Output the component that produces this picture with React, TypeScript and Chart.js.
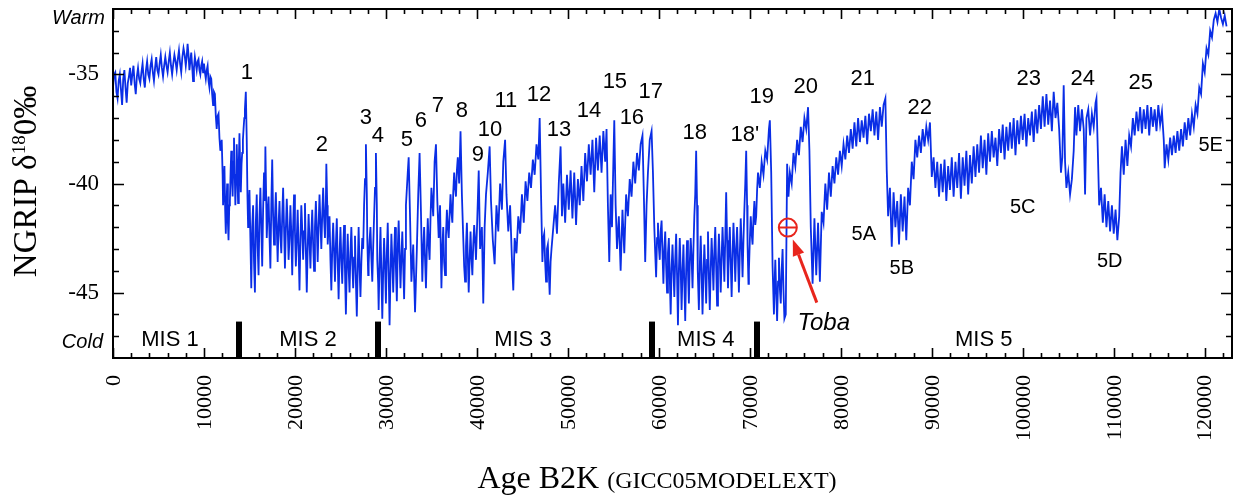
import React, { useEffect, useRef } from 'react';
import { Chart, registerables } from 'chart.js';

Chart.register(...registerables);

const SERIF = '"Liberation Serif", "Times New Roman", serif';
const SANS = '"Liberation Sans", Arial, sans-serif';
const LINE_BLUE = '#0a2ee6';
const RED = '#e8251c';

// ---- NGRIP δ18O record, [age B2K (years), δ18O ‰] ----
const mis1Series: [number, number][] = [
  [0, -35.6], [125, -35.0], [250, -34.9], [375, -35.8], [500, -36.1], [625, -35.3], [750, -35.0], [875, -35.7],
  [1000, -36.4], [1125, -35.2], [1250, -34.8], [1375, -35.6], [1500, -36.3], [1625, -35.4], [1750, -35.1], [1875, -34.7],
  [2000, -35.5], [2125, -35.0], [2250, -34.6], [2375, -35.4], [2500, -35.9], [2625, -35.1], [2750, -34.7], [2875, -35.2],
  [3000, -35.4], [3125, -34.9], [3250, -34.5], [3375, -35.2], [3500, -35.6], [3625, -34.8], [3750, -34.4], [3875, -35.0],
  [4000, -35.2], [4125, -34.6], [4250, -34.3], [4375, -34.9], [4500, -35.3], [4625, -34.7], [4750, -34.2], [4875, -34.8],
  [5000, -35.0], [5125, -34.5], [5250, -34.1], [5375, -34.7], [5500, -35.1], [5625, -34.6], [5750, -34.2], [5875, -34.6],
  [6000, -34.9], [6125, -34.4], [6250, -34.0], [6375, -34.6], [6500, -35.0], [6625, -34.5], [6750, -34.1], [6875, -34.4],
  [7000, -34.8], [7125, -34.3], [7250, -33.9], [7375, -34.5], [7500, -34.9], [7625, -34.2], [7750, -33.8], [7875, -34.1],
  [8000, -34.6], [8100, -34.2], [8200, -33.6], [8300, -34.1], [8400, -34.8], [8500, -34.4], [8600, -34.0], [8700, -34.6],
  [8800, -35.3], [8900, -34.7], [9000, -34.2], [9100, -34.5], [9200, -34.8], [9300, -34.4], [9400, -34.3], [9500, -34.8],
  [9600, -35.0], [9700, -34.6], [9800, -34.4], [9900, -34.9], [10000, -34.5], [10100, -34.9], [10200, -35.2], [10300, -34.8],
  [10400, -34.6], [10500, -35.3], [10600, -35.6], [10700, -35.1], [10800, -35.2], [10900, -35.9], [11000, -36.4], [11100, -35.8],
  [11200, -35.9], [11300, -36.9], [11400, -37.5], [11500, -36.9], [11600, -36.8], [11700, -37.9], [11800, -38.5], [11950, -38.0],
  [12050, -39.6], [12100, -41.0], [12250, -39.2], [12330, -41.2], [12400, -42.3], [12480, -40.9], [12550, -40.0], [12630, -41.8],
  [12700, -42.6], [12780, -41.0], [12850, -40.8], [12930, -39.4], [13000, -38.5], [13080, -39.8], [13150, -40.6], [13230, -39.0],
  [13300, -37.9], [13380, -39.5], [13450, -41.0], [13530, -39.6], [13600, -38.2], [13680, -39.7], [13750, -40.9], [13830, -39.0],
  [13900, -37.7], [13980, -39.2], [14050, -40.4], [14130, -39.1], [14200, -38.6], [14280, -38.0], [14350, -37.5], [14430, -37.0],
  [14500, -36.6], [14600, -35.8], [14700, -38.0], [14780, -40.6], [14850, -42.0], [14930, -41.0],
];

const mis2Series: [number, number][] = [
  [15000, -40.3], [15100, -42.5], [15200, -44.8], [15300, -42.0], [15400, -41.0], [15500, -43.6], [15600, -45.0], [15700, -41.8],
  [15800, -40.5], [15900, -42.9], [16000, -44.2], [16100, -41.5], [16200, -40.2], [16300, -42.0], [16400, -43.8], [16500, -41.2],
  [16600, -39.5], [16700, -40.8], [16750, -38.3], [16850, -41.0], [16900, -42.5], [17000, -41.3], [17100, -40.6], [17200, -42.4],
  [17300, -43.9], [17400, -41.0], [17500, -38.9], [17600, -41.5], [17700, -42.8], [17800, -41.6], [17900, -40.4], [18000, -42.0],
  [18100, -43.6], [18200, -41.9], [18300, -40.8], [18400, -42.4], [18500, -43.2], [18600, -41.5], [18700, -40.2], [18800, -42.0],
  [18900, -43.9], [19000, -42.1], [19100, -40.7], [19200, -41.9], [19300, -43.5], [19400, -42.5], [19500, -41.0], [19600, -42.3],
  [19700, -44.2], [19800, -42.0], [19900, -40.5], [20000, -42.2], [20100, -43.8], [20200, -42.5], [20300, -41.2], [20400, -43.0],
  [20500, -44.9], [20600, -42.6], [20700, -41.0], [20800, -42.1], [20900, -43.5], [21000, -42.2], [21100, -40.9], [21200, -43.1],
  [21300, -45.0], [21400, -43.0], [21500, -41.4], [21600, -42.6], [21700, -43.9], [21800, -42.3], [21900, -41.2], [22000, -42.8],
  [22100, -44.0], [22200, -42.0], [22300, -40.8], [22400, -42.1], [22500, -43.6], [22600, -41.9], [22700, -40.5], [22800, -41.8],
  [22900, -43.0], [23000, -41.4], [23100, -40.2], [23200, -41.6], [23300, -42.5], [23400, -40.8], [23450, -39.1], [23550, -41.0],
  [23600, -42.8], [23700, -42.0], [23800, -41.5], [23900, -43.5], [24000, -44.9], [24100, -43.0], [24200, -41.8], [24300, -43.1],
  [24400, -44.5], [24500, -42.8], [24600, -41.6], [24700, -43.6], [24800, -45.3], [24900, -43.3], [25000, -42.0], [25100, -43.5],
  [25200, -44.6], [25300, -43.0], [25400, -41.9], [25500, -44.0], [25600, -46.0], [25700, -43.8], [25800, -42.3], [25900, -43.9],
  [26000, -45.0], [26100, -43.2], [26200, -42.0], [26300, -43.6], [26400, -44.8], [26500, -43.4], [26600, -42.4], [26700, -44.5],
  [26800, -46.1], [26900, -43.9], [27000, -42.0], [27100, -43.8], [27200, -45.2], [27300, -43.6], [27400, -42.5], [27500, -43.0],
  [27600, -41.0], [27700, -39.8], [27800, -38.2], [27900, -40.5], [27950, -42.5], [28050, -44.2], [28100, -43.7], [28200, -42.6],
  [28300, -42.0], [28400, -43.4], [28500, -44.5], [28600, -42.9], [28700, -41.5], [28800, -40.2], [28900, -38.6], [29000, -41.0],
  [29050, -43.5], [29150, -44.6], [29200, -45.8],
];

const mis3Series: [number, number][] = [
  [29300, -43.6], [29400, -42.0], [29500, -44.1], [29600, -46.2], [29700, -44.0], [29800, -42.5], [29900, -43.8], [30000, -45.5],
  [30100, -43.2], [30200, -41.8], [30300, -44.0], [30400, -46.5], [30500, -44.2], [30600, -42.3], [30700, -43.5], [30800, -45.0],
  [30900, -43.3], [31000, -42.0], [31100, -43.9], [31200, -45.4], [31300, -43.0], [31400, -41.7], [31500, -43.2], [31600, -44.8],
  [31700, -43.4], [31800, -42.2], [31900, -43.8], [32000, -45.3], [32100, -43.0], [32200, -41.0], [32400, -39.5], [32500, -38.8],
  [32650, -41.5], [32800, -44.5], [33000, -42.8], [33200, -45.9], [33400, -43.0], [33550, -40.5], [33700, -38.6], [33850, -41.3],
  [34000, -44.5], [34100, -43.0], [34200, -42.0], [34300, -43.5], [34400, -44.8], [34500, -43.0], [34600, -41.6], [34700, -42.8],
  [34800, -43.5], [34900, -41.6], [35000, -40.2], [35200, -41.5], [35350, -39.0], [35500, -38.2], [35650, -40.8], [35800, -42.5],
  [35950, -41.0], [36100, -44.8], [36200, -43.0], [36300, -42.0], [36400, -43.6], [36500, -44.2], [36600, -42.4], [36700, -41.2],
  [36800, -42.0], [36900, -42.5], [37000, -41.4], [37100, -40.5], [37200, -41.3], [37300, -41.8], [37400, -40.4], [37500, -39.5],
  [37600, -40.2], [37700, -40.6], [37800, -39.4], [37900, -38.8], [38050, -40.0], [38200, -37.6], [38350, -40.5], [38500, -42.5],
  [38600, -43.8], [38700, -44.5], [38800, -42.9], [38900, -41.8], [39000, -43.4], [39100, -45.0], [39200, -43.5], [39300, -42.2],
  [39400, -43.4], [39500, -44.2], [39600, -42.8], [39700, -41.9], [39800, -42.6], [39900, -43.5], [40050, -41.5], [40200, -39.4],
  [40350, -43.0], [40550, -42.0], [40700, -45.5], [40850, -42.0], [41000, -40.5], [41200, -39.5], [41400, -38.3], [41550, -40.8],
  [41750, -42.6], [41950, -43.7], [42150, -41.0], [42350, -42.2], [42550, -40.0], [42750, -41.2], [42900, -39.0], [43100, -38.0],
  [43250, -40.5], [43450, -42.2], [43650, -41.0], [43850, -43.5], [44000, -44.9], [44150, -42.5], [44350, -43.2], [44550, -41.5],
  [44750, -42.3], [44950, -40.5], [45150, -41.8], [45350, -39.9], [45550, -40.8], [45750, -39.5], [45950, -40.2], [46150, -38.9],
  [46350, -39.6], [46550, -38.2], [46750, -38.9], [46900, -37.0], [47050, -40.5], [47200, -43.6], [47300, -42.5], [47400, -42.3],
  [47500, -43.6], [47600, -44.5], [47700, -43.0], [47800, -42.8], [47900, -44.0], [48000, -45.1], [48100, -43.6], [48200, -43.0],
  [48400, -42.0], [48600, -41.0], [48800, -42.3], [49000, -40.0], [49200, -38.3], [49350, -41.5], [49500, -40.0], [49700, -41.8],
  [49900, -39.6], [50100, -41.2], [50300, -39.4], [50500, -41.6], [50700, -39.5], [50900, -41.9], [51100, -39.8], [51300, -41.0],
  [51500, -39.2], [51700, -40.8], [51900, -38.6], [52100, -39.9], [52300, -38.2], [52500, -39.6], [52700, -38.0], [52900, -40.4],
  [53100, -37.9], [53300, -39.4], [53500, -37.8], [53700, -39.5], [53900, -37.6], [54100, -39.0], [54250, -37.5], [54400, -41.0],
  [54550, -43.6], [54700, -40.5], [54850, -42.0], [55000, -39.0], [55100, -37.1], [55250, -41.0], [55400, -43.0], [55600, -41.5],
  [55800, -44.0], [56000, -41.2], [56200, -43.2], [56400, -40.5], [56600, -41.5], [56800, -39.8], [57000, -40.6], [57200, -39.0],
  [57400, -40.0], [57600, -38.6], [57800, -39.4], [58000, -38.2], [58200, -37.8], [58350, -40.5], [58500, -43.6], [58650, -41.0],
  [58800, -39.5], [59000, -38.0], [59200, -37.6], [59350, -39.5], [59500, -42.0],
];

const mis4Series: [number, number][] = [
  [59600, -43.2], [59700, -44.3], [59800, -42.5], [59900, -41.8], [60000, -42.9], [60100, -43.5], [60200, -42.2], [60300, -41.7],
  [60400, -43.2], [60500, -44.6], [60600, -43.0], [60700, -42.2], [60800, -43.8], [60900, -45.0], [61000, -43.2], [61100, -42.5],
  [61200, -44.3], [61300, -46.0], [61400, -43.9], [61500, -42.8], [61600, -44.0], [61700, -45.2], [61800, -43.5], [61900, -42.3],
  [62000, -44.2], [62100, -46.5], [62200, -44.0], [62300, -42.5], [62400, -43.9], [62500, -45.8], [62600, -44.1], [62700, -42.8],
  [62800, -44.6], [62900, -46.3], [63000, -44.0], [63100, -42.6], [63200, -44.0], [63300, -45.5], [63400, -43.6], [63500, -42.5],
  [63600, -43.4], [63700, -44.8], [63800, -43.0], [63900, -41.5], [64000, -40.5], [64100, -38.5], [64200, -41.0], [64250, -42.5],
  [64300, -44.0], [64400, -45.8], [64500, -43.8], [64600, -42.4], [64700, -44.1], [64800, -46.0], [64900, -44.2], [65000, -42.8],
  [65100, -44.0], [65200, -45.5], [65300, -43.5], [65400, -42.2], [65500, -44.3], [65600, -45.8], [65700, -43.9], [65800, -42.5],
  [65900, -43.6], [66000, -44.9], [66100, -43.1], [66200, -42.0], [66300, -43.8], [66400, -45.6], [66500, -43.7], [66600, -42.3],
  [66700, -43.5], [66800, -45.0], [66900, -43.4], [67000, -42.0], [67100, -43.2], [67200, -44.5], [67300, -42.5], [67400, -40.4],
  [67500, -42.6], [67600, -44.8], [67700, -43.1], [67800, -42.0], [67900, -43.6], [68000, -45.2], [68100, -43.3], [68200, -41.8],
  [68300, -43.0], [68400, -44.5], [68500, -43.0], [68600, -42.0], [68700, -43.4], [68800, -45.0], [68900, -43.2], [69000, -41.6],
  [69100, -42.8], [69200, -44.3], [69300, -42.6], [69400, -41.2], [69500, -40.0], [69600, -38.5], [69700, -41.0], [69750, -42.8],
  [69850, -44.6], [69900, -44.0], [70000, -42.6], [70100, -41.5], [70200, -42.3], [70300, -42.8], [70400, -41.6], [70500, -40.8],
  [70600, -41.9], [70700, -41.5], [70800, -40.3], [70900, -39.5],
];

const mis5Series: [number, number][] = [
  [71100, -40.2], [71300, -39.0], [71500, -39.6], [71700, -38.5], [71900, -38.9], [72100, -37.5], [72200, -37.1], [72350, -39.5],
  [72500, -43.8], [72650, -46.0], [72750, -44.2], [72800, -43.5], [72900, -45.0], [73000, -46.3], [73100, -44.5], [73200, -43.4],
  [73300, -44.8], [73400, -45.5], [73500, -44.0], [73600, -43.0], [73700, -44.9], [73800, -46.2], [73950, -46.0], [74100, -39.1],
  [74250, -40.6], [74400, -39.5], [74600, -40.0], [74800, -38.6], [75000, -39.2], [75200, -38.0], [75400, -38.7], [75600, -37.4],
  [75800, -38.1], [76000, -37.0], [76200, -37.5], [76400, -36.5], [76550, -38.5], [76700, -42.0], [76900, -44.6], [77100, -41.6],
  [77300, -44.2], [77500, -41.8], [77700, -44.5], [77900, -41.3], [78100, -41.8], [78300, -40.0], [78500, -41.2], [78700, -39.5],
  [78900, -40.6], [79100, -39.2], [79300, -40.0], [79500, -38.8], [79700, -39.6], [79900, -38.5], [80100, -39.2], [80300, -38.2],
  [80500, -38.9], [80700, -37.8], [80900, -38.6], [81100, -37.5], [81300, -38.4], [81500, -37.2], [81700, -38.3], [81900, -37.0],
  [82100, -38.1], [82300, -37.1], [82500, -37.9], [82700, -36.9], [82900, -38.2], [83100, -36.8], [83300, -37.6], [83500, -36.6],
  [83700, -37.8], [83900, -36.7], [84100, -38.0], [84300, -36.5], [84500, -37.4], [84700, -36.4], [84900, -36.1], [85050, -39.4],
  [85200, -41.5], [85400, -40.2], [85600, -42.9], [85800, -40.4], [86000, -42.0], [86200, -40.8], [86400, -42.8], [86600, -40.5],
  [86800, -42.2], [87000, -40.6], [87200, -42.6], [87400, -40.2], [87600, -41.0], [87800, -39.0], [88000, -39.8], [88200, -38.0],
  [88400, -38.8], [88600, -37.8], [88800, -38.6], [89000, -37.5], [89200, -38.3], [89400, -37.4], [89600, -38.0], [89800, -37.2],
  [90000, -39.7], [90200, -38.8], [90400, -40.2], [90600, -39.0], [90800, -40.6], [91000, -39.1], [91200, -40.4], [91400, -38.9],
  [91600, -40.8], [91800, -39.2], [92000, -40.3], [92200, -38.8], [92400, -40.6], [92600, -39.0], [92800, -40.2], [93000, -38.6],
  [93200, -40.7], [93400, -38.8], [93600, -40.1], [93800, -38.5], [94000, -40.5], [94200, -38.7], [94400, -40.0], [94600, -38.3],
  [94800, -39.7], [95000, -38.2], [95200, -39.5], [95400, -37.8], [95600, -39.3], [95800, -38.0], [96000, -39.6], [96200, -37.7],
  [96400, -39.0], [96600, -37.6], [96800, -38.8], [97000, -37.9], [97200, -39.2], [97400, -37.5], [97600, -38.6], [97800, -37.3],
  [98000, -38.9], [98200, -37.4], [98400, -38.5], [98600, -37.2], [98800, -38.4], [99000, -37.0], [99200, -38.7], [99400, -37.1],
  [99600, -38.2], [99800, -36.9], [100000, -38.0], [100200, -36.8], [100400, -38.3], [100600, -37.0], [100800, -37.8], [101000, -36.7],
  [101200, -38.1], [101400, -36.6], [101600, -37.7], [101800, -36.4], [102000, -37.5], [102200, -36.0], [102400, -37.4], [102600, -35.9],
  [102800, -37.3], [103000, -36.2], [103200, -37.6], [103400, -35.8], [103600, -37.0], [103800, -36.3], [104000, -37.5], [104200, -39.5],
  [104350, -38.8], [104500, -35.5], [104650, -39.0], [104800, -40.2], [105000, -39.5], [105200, -40.5], [105400, -39.8], [105600, -38.5],
  [105750, -36.5], [105900, -37.8], [106100, -36.4], [106300, -37.6], [106500, -36.6], [106700, -37.5], [106850, -40.5], [107000, -37.0],
  [107200, -36.6], [107400, -37.8], [107600, -36.8], [107800, -37.4], [108000, -36.3], [108100, -36.1], [108250, -38.5], [108400, -41.0],
  [108600, -40.2], [108800, -41.8], [109000, -40.5], [109200, -42.0], [109400, -40.8], [109600, -42.2], [109800, -41.0], [110000, -42.3],
  [110200, -41.2], [110400, -42.6], [110600, -41.5], [110750, -39.5], [110900, -38.3], [111100, -39.6], [111300, -38.0], [111500, -39.2],
  [111700, -37.8], [111900, -38.3], [112100, -37.0], [112300, -37.8], [112500, -36.7], [112700, -37.6], [112900, -36.5], [113100, -37.7],
  [113300, -36.6], [113500, -37.5], [113700, -36.4], [113900, -37.8], [114100, -36.5], [114300, -37.4], [114500, -36.6], [114700, -37.6],
  [114900, -36.4], [115100, -37.3], [115300, -36.7], [115500, -38.0], [115600, -39.3], [115800, -38.2], [116000, -38.9], [116200, -37.9],
  [116400, -38.7], [116600, -37.8], [116800, -38.6], [117000, -37.6], [117200, -38.5], [117400, -37.5], [117600, -38.3], [117800, -37.2],
  [118000, -38.0], [118200, -37.0], [118400, -37.8], [118600, -36.8], [118800, -37.4], [119000, -36.4], [119200, -36.8], [119400, -35.6],
  [119600, -35.9], [119800, -34.5], [120000, -34.9], [120200, -33.8], [120400, -34.1], [120600, -33.0], [120800, -33.3], [121000, -32.5],
  [121200, -32.2], [121400, -32.6], [121600, -32.0], [121800, -32.4], [122000, -32.7], [122200, -32.3], [122400, -32.8],
];

// ---- Axes ----
const X_MIN = 0;
const X_MAX = 123000;
const Y_MIN = -48;
const Y_MAX = -32;
const xTickValues = [0, 10000, 20000, 30000, 40000, 50000, 60000, 70000, 80000, 90000, 100000, 110000, 120000];
const xTickLabels = ['0', '10000', '20000', '30000', '40000', '50000', '60000', '70000', '80000', '90000', '100000', '110000', '120000'];
const yTickValues = [-45, -40, -35];
const yTickLabels = ['-45', '-40', '-35'];
const X_MINOR_STEP = 2000;
const Y_MINOR_STEP = 1;

// ---- Annotations (anchored in data coordinates: age, δ18O) ----
const eventNames = ['1', '2', '3', '4', '5', '6', '7', '8', '9', '10', '11', '12', '13', '14', '15', '16', '17', '18', "18'", '19', '20', '21', '22', '23', '24', '25'];
const eventAges = [14725, 22967, 27802, 29121, 32308, 33846, 35714, 38352, 40110, 41429, 43187, 46813, 49011, 52308, 55165, 57033, 59121, 63956, 69451, 71319, 76154, 82418, 88681, 100659, 106593, 112967];
const eventValues = [-35.23, -38.53, -37.25, -38.12, -38.3, -37.39, -36.74, -36.97, -38.99, -37.8, -36.51, -36.24, -37.8, -36.97, -35.6, -37.25, -36.1, -37.94, -38.07, -36.33, -35.87, -35.5, -36.83, -35.5, -35.5, -35.69];

const substageNames = ['5A', '5B', '5C', '5D', '5E'];
const substageAges = [82527, 86703, 100000, 109560, 120659];
const substageValues = [-42.61, -44.13, -41.33, -43.85, -38.53];

const misNames = ['MIS 1', 'MIS 2', 'MIS 3', 'MIS 4', 'MIS 5'];
const misLabelAges = [6264, 21429, 45055, 65165, 95714];
const MIS_LABEL_VALUE = -47.43;
const misBoundaries = [13900, 29100, 59300, 70800];
const MIS_BAR_TOP = -46.33;

const tobaAge = 74176;
const tobaValue = -42.02;
const tobaLabel = { text: 'Toba', age: 78132, value: -46.7 };
const tobaArrowTail = { age: 77363, value: -45.46 };
const tobaArrowTip = { age: 74725, value: -42.57 };

const warmLabel = { text: 'Warm', value: -32.71 };
const coldLabel = { text: 'Cold', value: -47.52 };

const overlayPlugin = {
  id: 'ngripOverlay',
  afterDatasetsDraw(chart: any) {
    const { ctx, chartArea: a, scales } = chart;
    const xs = scales.x;
    const ys = scales.y;
    const px = (v: number) => xs.getPixelForValue(v);
    const py = (v: number) => ys.getPixelForValue(v);
    ctx.save();

    // MIS boundary bars
    ctx.fillStyle = '#000';
    for (const b of misBoundaries) {
      const top = py(MIS_BAR_TOP);
      ctx.fillRect(Math.round(px(b)) - 3, top, 6, a.bottom - top);
    }

    // frame
    ctx.strokeStyle = '#000';
    ctx.lineWidth = 2;
    ctx.strokeRect(a.left, a.top, a.right - a.left, a.bottom - a.top);

    // ticks (inward, all four sides)
    ctx.lineWidth = 1.6;
    ctx.beginPath();
    for (let v = X_MIN; v <= X_MAX; v += X_MINOR_STEP) {
      const major = v % 10000 === 0;
      const len = major ? 10 : 5;
      const x = Math.round(px(v)) + 0.5;
      ctx.moveTo(x, a.bottom);
      ctx.lineTo(x, a.bottom - len);
      ctx.moveTo(x, a.top);
      ctx.lineTo(x, a.top + len);
    }
    for (let v = Y_MIN + 1; v < Y_MAX; v += Y_MINOR_STEP) {
      const major = v % 5 === 0;
      const len = major ? 11 : 6;
      const y = Math.round(py(v)) + 0.5;
      ctx.moveTo(a.left, y);
      ctx.lineTo(a.left + len, y);
      ctx.moveTo(a.right, y);
      ctx.lineTo(a.right - len, y);
    }
    ctx.stroke();

    // tick labels
    ctx.fillStyle = '#000';
    ctx.font = `23px ${SERIF}`;
    ctx.textAlign = 'right';
    ctx.textBaseline = 'middle';
    yTickValues.forEach((v, i) => {
      ctx.fillText(yTickLabels[i], a.left - 14, py(v));
    });
    ctx.font = `22px ${SERIF}`;
    xTickValues.forEach((v, i) => {
      ctx.save();
      ctx.translate(px(v), a.bottom + 17);
      ctx.rotate(-Math.PI / 2);
      ctx.textAlign = 'right';
      ctx.textBaseline = 'middle';
      ctx.fillText(xTickLabels[i], 0, 1);
      ctx.restore();
    });

    // axis titles
    ctx.textBaseline = 'alphabetic';
    ctx.textAlign = 'left';
    ctx.font = `32px ${SERIF}`;
    const t1 = 'Age B2K ';
    const w1 = ctx.measureText(t1).width;
    ctx.font = `24px ${SERIF}`;
    const t2 = '(GICC05MODELEXT)';
    const w2 = ctx.measureText(t2).width;
    const startX = 657 - (w1 + w2) / 2;
    ctx.font = `32px ${SERIF}`;
    ctx.fillText(t1, startX, 488);
    ctx.font = `24px ${SERIF}`;
    ctx.fillText(t2, startX + w1, 488);

    const parts = [
      { t: 'NGRIP δ', size: 33, rise: 0 },
      { t: '18', size: 19, rise: 11 },
      { t: '0‰', size: 33, rise: 0 },
    ];
    let total = 0;
    for (const p of parts) {
      ctx.font = `${p.size}px ${SERIF}`;
      total += ctx.measureText(p.t).width;
    }
    ctx.save();
    ctx.translate(36, (a.top + a.bottom) / 2 - 2);
    ctx.rotate(-Math.PI / 2);
    let cur = -total / 2;
    for (const p of parts) {
      ctx.font = `${p.size}px ${SERIF}`;
      ctx.fillText(p.t, cur, -p.rise);
      cur += ctx.measureText(p.t).width;
    }
    ctx.restore();

    // Warm / Cold
    ctx.font = `italic 20px ${SANS}`;
    ctx.textAlign = 'right';
    ctx.fillText(warmLabel.text, a.left - 8, py(warmLabel.value));
    ctx.fillText(coldLabel.text, a.left - 10, py(coldLabel.value));

    // event numbers
    ctx.textAlign = 'center';
    ctx.font = `22px ${SANS}`;
    eventNames.forEach((n, i) => ctx.fillText(n, px(eventAges[i]), py(eventValues[i])));
    ctx.font = `20px ${SANS}`;
    substageNames.forEach((n, i) => ctx.fillText(n, px(substageAges[i]), py(substageValues[i])));
    ctx.font = `22px ${SANS}`;
    misNames.forEach((n, i) => ctx.fillText(n, px(misLabelAges[i]), py(MIS_LABEL_VALUE)));

    // Toba marker
    const cx = px(tobaAge);
    const cy = py(tobaValue);
    ctx.strokeStyle = RED;
    ctx.lineWidth = 2;
    ctx.beginPath();
    ctx.arc(cx, cy, 9, 0, Math.PI * 2);
    ctx.moveTo(cx - 9, cy);
    ctx.lineTo(cx + 9, cy);
    ctx.stroke();

    // Toba arrow
    const tx = px(tobaArrowTail.age);
    const ty = py(tobaArrowTail.value);
    const hx = px(tobaArrowTip.age);
    const hy = py(tobaArrowTip.value);
    const ang = Math.atan2(hy - ty, hx - tx);
    const headLen = 16;
    const bx = hx - headLen * Math.cos(ang);
    const by = hy - headLen * Math.sin(ang);
    ctx.lineWidth = 3;
    ctx.beginPath();
    ctx.moveTo(tx, ty);
    ctx.lineTo(bx, by);
    ctx.stroke();
    ctx.fillStyle = RED;
    ctx.beginPath();
    ctx.moveTo(hx, hy);
    ctx.lineTo(bx + 6 * Math.sin(ang), by - 6 * Math.cos(ang));
    ctx.lineTo(bx - 6 * Math.sin(ang), by + 6 * Math.cos(ang));
    ctx.closePath();
    ctx.fill();

    ctx.fillStyle = '#000';
    ctx.font = `italic 24px ${SANS}`;
    ctx.textAlign = 'center';
    ctx.fillText(tobaLabel.text, px(tobaLabel.age), py(tobaLabel.value));

    ctx.restore();
  },
};

export default function App() {
  const canvasRef = useRef<HTMLCanvasElement | null>(null);

  useEffect(() => {
    const canvas = canvasRef.current;
    if (!canvas) return;
    const series = [...mis1Series, ...mis2Series, ...mis3Series, ...mis4Series, ...mis5Series].map(([x, y]) => ({ x, y }));
    const chart = new Chart(canvas, {
      type: 'line',
      data: {
        datasets: [
          {
            label: 'NGRIP δ18O',
            data: series,
            borderColor: LINE_BLUE,
            borderWidth: 1.8,
            pointRadius: 0,
            tension: 0,
            fill: false,
          },
        ],
      },
      options: {
        animation: false,
        responsive: true,
        maintainAspectRatio: false,
        devicePixelRatio: 1,
        parsing: true,
        layout: { padding: { left: 113, right: 6, top: 9, bottom: 139 } },
        plugins: { legend: { display: false }, tooltip: { enabled: false }, title: { display: false } },
        scales: {
          x: { type: 'linear', min: X_MIN, max: X_MAX, display: false },
          y: { type: 'linear', min: Y_MIN, max: Y_MAX, display: false },
        },
      },
      plugins: [overlayPlugin],
    });
    return () => chart.destroy();
  }, []);

  return (
    <div style={{ position: 'fixed', left: 0, top: 0, width: 1238, height: 497, background: '#fff' }}>
      <canvas ref={canvasRef} />
    </div>
  );
}
